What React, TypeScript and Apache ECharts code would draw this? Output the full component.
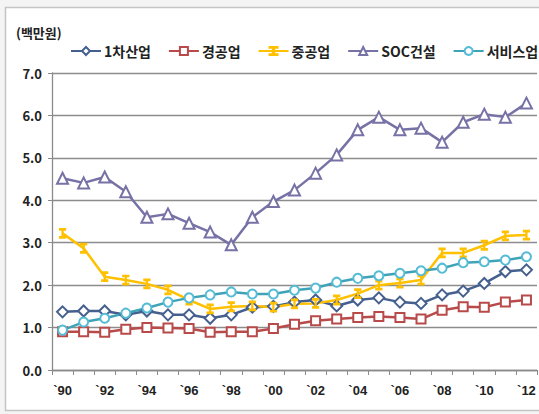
import React, { useEffect, useRef } from "react";
import * as echarts from "echarts";

const years = ["`90", "`91", "`92", "`93", "`94", "`95", "`96", "`97", "`98", "`99", "`00", "`01", "`02", "`03", "`04", "`05", "`06", "`07", "`08", "`09", "`10", "`11", "`12"];
const primary = [1.37, 1.39, 1.39, 1.3, 1.39, 1.3, 1.3, 1.22, 1.3, 1.48, 1.5, 1.6, 1.65, 1.51, 1.65, 1.7, 1.6, 1.57, 1.77, 1.86, 2.04, 2.32, 2.36];
const light = [0.9, 0.9, 0.89, 0.96, 1.0, 0.99, 0.98, 0.89, 0.9, 0.9, 0.98, 1.08, 1.16, 1.2, 1.24, 1.26, 1.24, 1.2, 1.41, 1.49, 1.48, 1.6, 1.65];
const heavy = [3.22, 2.87, 2.2, 2.12, 2.03, 1.89, 1.65, 1.44, 1.49, 1.51, 1.48, 1.56, 1.57, 1.65, 1.8, 2.0, 2.05, 2.12, 2.76, 2.76, 2.94, 3.16, 3.18];
const soc = [4.52, 4.41, 4.55, 4.2, 3.6, 3.68, 3.46, 3.25, 2.95, 3.6, 3.97, 4.24, 4.64, 5.07, 5.66, 5.96, 5.66, 5.7, 5.37, 5.84, 6.03, 5.96, 6.29];
const service = [0.94, 1.13, 1.22, 1.34, 1.46, 1.6, 1.7, 1.77, 1.84, 1.79, 1.79, 1.88, 1.93, 2.07, 2.16, 2.22, 2.28, 2.34, 2.4, 2.53, 2.55, 2.59, 2.67];
const seriesNames = ["1차산업", "경공업", "중공업", "SOC건설", "서비스업"];
const unitLabel = "(백만원)";

const FONT = "'Noto Sans CJK KR', 'Noto Sans', sans-serif";

export default function App() {
  const ref = useRef<HTMLDivElement>(null);
  useEffect(() => {
    if (!ref.current) return;
    const chart = echarts.init(ref.current, null, { renderer: "svg" });
    const mk = (name: string, data: number[], color: string, symbol: string, size: any, markerColor?: string) => ({
      name,
      type: "line",
      data,
      symbol,
      symbolSize: size,
      showAllSymbol: true,
      lineStyle: { color, width: 2.5 },
      itemStyle: { color: markerColor || color, borderColor: markerColor || color, borderWidth: 1.5 },
      z: 3,
    });
    const ibeam = "path://M0,0H6V1H3.5V9H6V10H0V9H2.5V1H0Z";
    chart.setOption({
      animation: false,
      backgroundColor: "#f4f4f4",
      textStyle: { fontFamily: FONT },
      graphic: [
        {
          type: "rect",
          shape: { x: 5.5, y: 7.5, width: 540, height: 403 },
          style: { fill: "#ffffff", stroke: "#c4c4c4", lineWidth: 1.5 },
          z: -10,
          silent: true,
        },
        {
          type: "text",
          left: 16,
          top: 26,
          style: { text: unitLabel, fill: "#222", font: `bold 13px ${FONT}` },
        },
      ],
      legend: {
        left: 65,
        top: 39,
        width: 600,
        itemWidth: 30,
        itemHeight: 10,
        itemGap: 17,
        textStyle: { fontFamily: FONT, fontSize: 14, fontWeight: "bold", color: "#222", padding: [0, 0, 0, -2] },
        data: seriesNames,
      },
      grid: { left: 52, right: 2, top: 73, bottom: 44, containLabel: false },
      xAxis: {
        type: "category",
        data: years,
        boundaryGap: true,
        axisLine: { lineStyle: { color: "#8a8a8a", width: 1.3 } },
        axisTick: { show: true, alignWithLabel: false, interval: 0, length: 5, lineStyle: { color: "#8a8a8a" } },
        axisLabel: { interval: 1, color: "#222", fontFamily: "'Liberation Sans', sans-serif", fontSize: 13, fontWeight: "bold", margin: 14 },
      },
      yAxis: {
        type: "value",
        min: 0,
        max: 7,
        interval: 1,
        axisLine: { show: true, lineStyle: { color: "#8a8a8a", width: 1.3 } },
        axisTick: { show: true, length: 4, lineStyle: { color: "#8a8a8a" } },
        axisLabel: { formatter: (v: number) => v.toFixed(1), color: "#222", fontFamily: FONT, fontSize: 13, fontWeight: "bold", margin: 10 },
        splitLine: { lineStyle: { color: "#8c8c8c", width: 1.3 } },
      },
      series: [
        mk(seriesNames[0], primary, "#45608f", "emptyDiamond", 11),
        mk(seriesNames[1], light, "#b84a4a", "emptyRect", 9),
        mk(seriesNames[2], heavy, "#ffc000", ibeam, [6, 9]),
        mk(seriesNames[3], soc, "#7672a6", "emptyTriangle", 11),
        mk(seriesNames[4], service, "#3fa3b8", "emptyCircle", 9, "#56bcd6"),
      ],
    });
    return () => chart.dispose();
  }, []);
  return <div ref={ref} style={{ position: "absolute", left: 0, top: 0, width: 539, height: 414 }} />;
}
